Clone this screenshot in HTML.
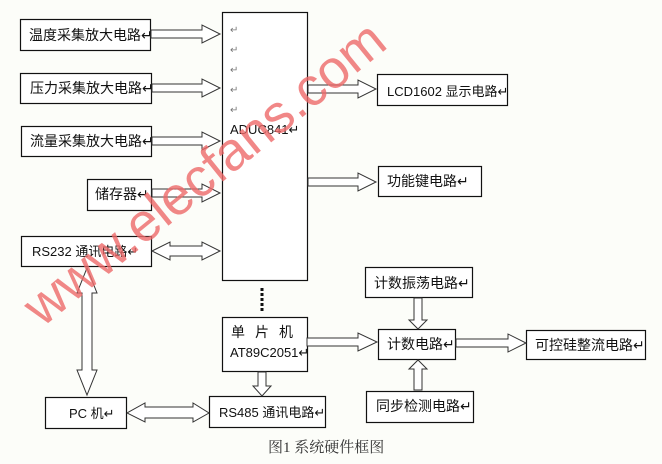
<!DOCTYPE html>
<html><head><meta charset="utf-8"><style>
html,body{margin:0;padding:0;background:#fcfdf9;}
svg{display:block;}
text{font-family:"Liberation Sans","Noto Sans CJK SC",sans-serif;font-size:14px;fill:#111;}
</style></head><body>
<svg width="662" height="464" viewBox="0 0 662 464" xmlns="http://www.w3.org/2000/svg">
<g fill="#fff" stroke="#111" stroke-width="1.2">
<rect x="20.5" y="19.5" width="130" height="31"/>
<rect x="20.5" y="73.5" width="131" height="30"/>
<rect x="21.5" y="126.5" width="130" height="30"/>
<rect x="87.5" y="179.5" width="64" height="31"/>
<rect x="21.5" y="236.5" width="130" height="30"/>
<rect x="222.5" y="12.5" width="85" height="268"/>
<rect x="377.5" y="74.5" width="130" height="31"/>
<rect x="378.5" y="166.5" width="103" height="30"/>
<rect x="365.5" y="267.5" width="107" height="30"/>
<rect x="378.5" y="329.5" width="77" height="30"/>
<rect x="222.5" y="317.5" width="85" height="54"/>
<rect x="526.5" y="330.5" width="119" height="29"/>
<rect x="209.5" y="396.5" width="116" height="31"/>
<rect x="366.5" y="391.5" width="107" height="31"/>
<rect x="45.5" y="397.5" width="81" height="31"/>
</g>
<g fill="#fff" stroke="#333" stroke-width="1">
<polygon points="151,30 202,30 202,25 220,34 202,43 202,38 151,38"/>
<polygon points="152,84 202,84 202,79 220,88 202,97 202,92 152,92"/>
<polygon points="152,137 202,137 202,132 220,141 202,150 202,145 152,145"/>
<polygon points="152,189 202,189 202,184 220,193 202,202 202,197 152,197"/>
<polygon points="308,85 358,85 358,80 376,89 358,98 358,93 308,93"/>
<polygon points="308,178 358,178 358,173 376,182 358,191 358,186 308,186"/>
<polygon points="307,338 358,338 358,333 377,342 358,351 358,346 307,346"/>
<polygon points="456,339 508,339 508,334 526,343 508,352 508,347 456,347"/>
<polygon points="152,251 170,242 170,246 202,246 202,242 220,251 202,260 202,256 170,256 170,260"/>
<polygon points="127,413 145,403 145,407 193,407 193,403 209,413 193,422 193,418 145,418 145,422"/>
<polygon points="87,268 97,293 92,293 92,370 97,370 87,395 77,370 82,370 82,293 77,293"/>
<polygon points="258,372 266,372 266,386 271,386 262,396 253,386 258,386"/>
<polygon points="414,298 422,298 422,320 427,320 418,329 409,320 414,320"/>
<polygon points="414,390 422,390 422,369 427,369 418,360 409,369 414,369"/>
</g>
<line x1="262" y1="288" x2="262" y2="313" stroke="#111" stroke-width="3" stroke-dasharray="3,2"/>
<text x="29" y="40">温度采集放大电路↵</text>
<text x="30" y="93">压力采集放大电路↵</text>
<text x="30" y="146">流量采集放大电路↵</text>
<text x="95" y="199">储存器↵</text>
<text x="32" y="256" style="font-size:13px">RS232 通讯电路↵</text>
<text x="230" y="33" style="font-size:10px;fill:#777">↵</text>
<text x="230" y="53" style="font-size:10px;fill:#777">↵</text>
<text x="230" y="73" style="font-size:10px;fill:#777">↵</text>
<text x="230" y="93" style="font-size:10px;fill:#777">↵</text>
<text x="230" y="113" style="font-size:10px;fill:#777">↵</text>
<text x="230" y="134" style="font-size:13px">ADUC841↵</text>
<text x="387" y="96" style="font-size:13px">LCD1602 显示电路↵</text>
<text x="387" y="186">功能键电路↵</text>
<text x="374" y="288">计数振荡电路↵</text>
<text x="387" y="349">计数电路↵</text>
<text x="231" y="337" style="letter-spacing:10px">单片机</text>
<text x="230" y="357" style="font-size:13px">AT89C2051↵</text>
<text x="535" y="350">可控硅整流电路↵</text>
<text x="219" y="417" style="font-size:13px">RS485 通讯电路↵</text>
<text x="376" y="411">同步检测电路↵</text>
<text x="69" y="418" style="font-size:13px">PC 机↵</text>
<text x="268" y="452" style="font-family:'Liberation Serif','Noto Serif CJK SC',serif;font-size:15px;fill:#333">图1  系统硬件框图</text>
<text x="0" y="0" transform="translate(42,328) rotate(-39)" style="font-size:54px;fill:#ee6a6a;opacity:0.8">www.elecfans.com</text>
</svg>
</body></html>
